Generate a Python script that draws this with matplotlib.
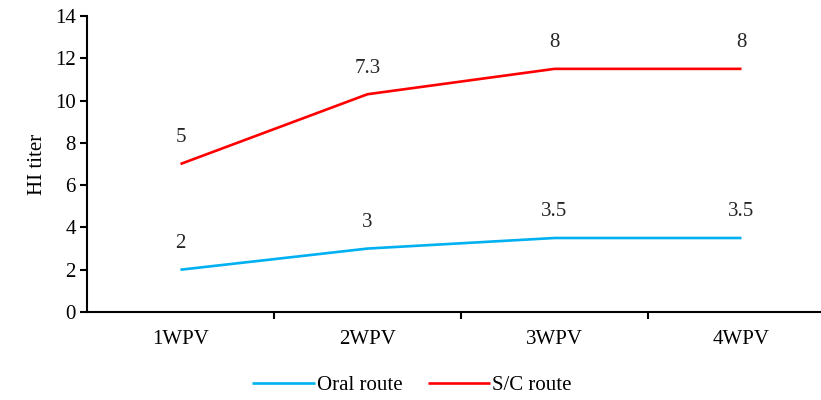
import numpy as np
import matplotlib.pyplot as plt

plt.rcParams['font.family'] = ['Liberation Serif', 'DejaVu Serif']

weeks = ["1WPV", "2WPV", "3WPV", "4WPV"]
oral = [2, 3, 3.5, 3.5]
sc = [5, 7.3, 8, 8]

# stacked lines: S/C sits on top of oral
oral_arr = np.array(oral)
sc_top = oral_arr + np.array(sc)

fs = 15

fig = plt.figure(figsize=(8.21, 4.0), dpi=100)
ax = fig.add_axes([87/821, 1 - 312/400, (835 - 87)/821, (312 - 16)/400])

x = np.arange(len(weeks))
ax.plot(x, oral_arr, color="#00B0F0", lw=1.9, label="Oral route", solid_capstyle="butt")
ax.plot(x, sc_top, color="#FF0000", lw=1.9, label="S/C route", solid_capstyle="butt")

for xi, yi, v in zip(x, oral_arr, oral):
    ax.annotate(f"{v:g}", (xi, yi), xytext=(0, 12), textcoords="offset points",
                ha="center", va="bottom", fontsize=fs, color="#262626")
for xi, yi, v in zip(x, sc_top, sc):
    ax.annotate(f"{v:g}", (xi, yi), xytext=(0, 12), textcoords="offset points",
                ha="center", va="bottom", fontsize=fs, color="#262626")

ax.set_xlim(-0.5, 3.5)
ax.set_ylim(0, 14)
ax.set_yticks(range(0, 15, 2))
ax.set_xticks([0.5, 1.5, 2.5])
ax.set_xticklabels([])
ax.set_xticks(x, minor=True)
ax.set_xticklabels(weeks, minor=True)
ax.tick_params(axis="x", which="minor", length=0, pad=13, labelsize=fs)
ax.tick_params(axis="x", which="major", direction="out", length=5, width=1.5)
ax.tick_params(axis="y", direction="out", length=5, width=1.5, labelsize=fs, pad=3)

for s in ["top", "right"]:
    ax.spines[s].set_visible(False)
for s in ["left", "bottom"]:
    ax.spines[s].set_linewidth(1.5)

ax.set_ylabel("HI titer", fontsize=fs, labelpad=6)

fig.legend(loc="center", bbox_to_anchor=(412/821, 1 - 385/400), ncol=2, frameon=False,
           fontsize=fs, handlelength=3, columnspacing=1.2, handletextpad=0.1)

fig.savefig("out.png", dpi=100)
